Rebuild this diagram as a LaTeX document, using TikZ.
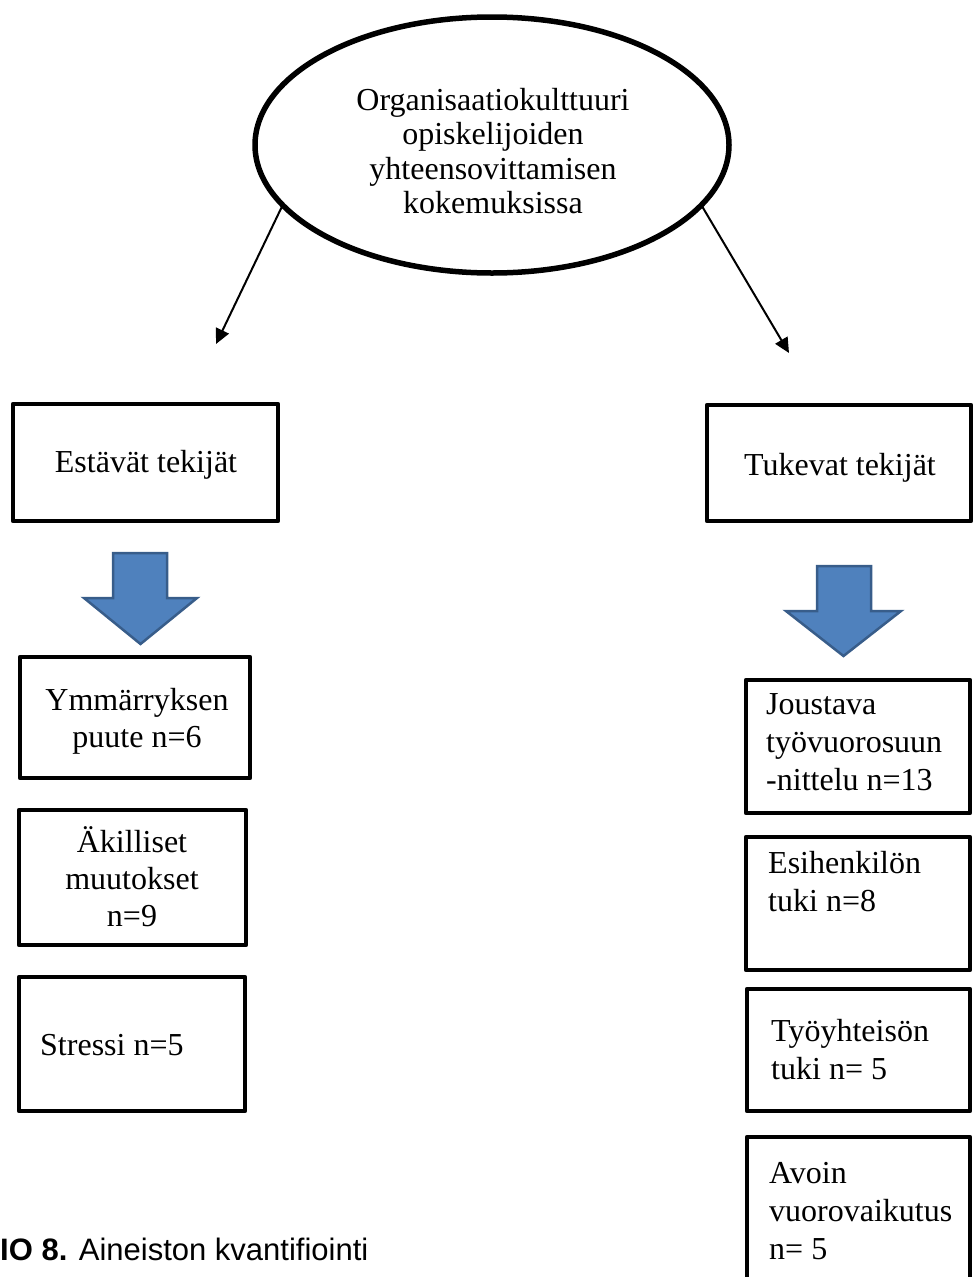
\documentclass[tikz,border=0pt]{standalone}
\usepackage{fontspec}
\setmainfont{Liberation Serif}
\newfontfamily\captionfont{Liberation Sans}
\usetikzlibrary{shapes.geometric,arrows.meta}
\definecolor{blockfill}{HTML}{4F81BD}
\definecolor{blockedge}{HTML}{385D8A}

\begin{document}
\begin{tikzpicture}[x=1pt,y=-1pt,
  box/.style={draw, line width=4.5pt, line join=round, inner sep=0pt, outer sep=0pt},
  oval/.style={draw, ellipse, line width=5.5pt, inner sep=0pt, outer sep=0pt},
  txt/.style={inner sep=0pt, font=\fontsize{32}{37}\selectfont},
  rtxt/.style={txt, align=left, anchor=base west, font=\fontsize{32}{38}\selectfont},
  ctxt/.style={txt, align=center, anchor=base},
  conn/.style={line width=2pt, -{Triangle[length=15pt,width=14pt]}},
  blockarrow/.style={fill=blockfill, draw=blockedge, line width=2.5pt, line join=miter}
]
\useasboundingbox (0,0) rectangle (975,1277);
\clip (0,0) rectangle (975,1277);

% central theme (multi-line texts are placed by the baseline of their last line)
\node[oval, minimum width=474pt, minimum height=256pt] (theme) at (492,145) {};
\node[ctxt, font=\fontsize{32}{34.5}\selectfont] (themetext) at (493,213.5)
  {Organisaatiokulttuuri\\opiskelijoiden\\yhteensovittamisen\\kokemuksissa};

% main categories
\node[box, minimum width=265pt, minimum height=117pt] (hinder) at (145.5,462.5) {};
\node[ctxt] (hindertext) at (146,472) {Estävät tekijät};
\node[box, minimum width=264pt, minimum height=116pt] (support) at (839,463) {};
\node[ctxt] (supporttext) at (840,475) {Tukevat tekijät};

% connectors from the theme
\coordinate (tipL) at (216,344);
\coordinate (tipR) at (789,353);
\draw[conn] (theme.196) -- (tipL);
\draw[conn] (theme.344) -- (tipR);

% block arrows
\draw[blockarrow] (113,553) -- (167,553) -- (167,598) -- (197,598) -- (140.5,644)
  -- (84,598) -- (113,598) -- cycle;
\draw[blockarrow] (817,566) -- (871,566) -- (871,611) -- (901,611) -- (843.5,656)
  -- (786,611) -- (817,611) -- cycle;

% hindering factors
\node[box, minimum width=230pt, minimum height=121pt] (h1) at (135,717.5) {};
\node[ctxt] (h1text) at (137,747) {Ymmärryksen\\puute n=6};
\node[box, minimum width=227pt, minimum height=135pt] (h2) at (132.5,877.5) {};
\node[ctxt] (h2text) at (132,926) {Äkilliset\\muutokset\\n=9};
\node[box, minimum width=226pt, minimum height=134pt] (h3) at (132,1044) {};
\node[txt, anchor=base west] (h3text) at (40,1055) {Stressi n=5};

% supporting factors
\node[box, minimum width=224pt, minimum height=133pt] (s1) at (858,746.5) {};
\node[rtxt] (s1text) at (766,790) {Joustava\\työvuorosuun\\-nittelu n=13};
\node[box, minimum width=224pt, minimum height=133pt] (s2) at (858,903.5) {};
\node[rtxt] (s2text) at (768,911) {Esihenkilön\\tuki n=8};
\node[box, minimum width=223pt, minimum height=122pt] (s3) at (858.5,1050) {};
\node[rtxt] (s3text) at (771,1079) {Työyhteisön\\tuki n= 5};
\node[box, minimum width=223pt, minimum height=153pt] (s4) at (858.5,1213.5) {};
\node[rtxt] (s4text) at (769,1259) {Avoin\\vuorovaikutus\\n= 5};

% figure caption
\node[inner sep=0pt, anchor=base west, font=\captionfont\fontsize{31}{36}\selectfont]
  (caption) at (0,1260) {\textbf{IO 8.} Aineiston kvantifiointi};
\end{tikzpicture}
\end{document}
